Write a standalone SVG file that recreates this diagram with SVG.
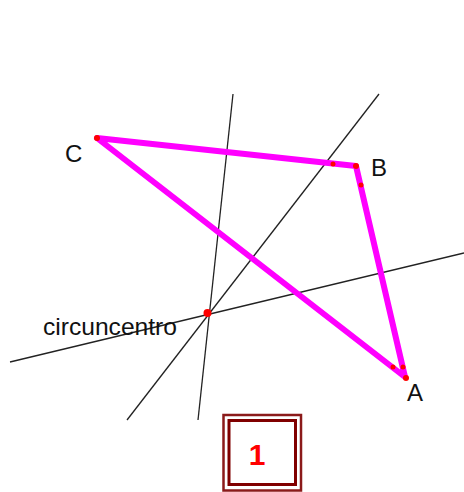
<svg xmlns="http://www.w3.org/2000/svg" width="464" height="492" viewBox="0 0 464 492">
<style>
.ln{stroke:#222;stroke-width:1.3;fill:none}
.tri{stroke:#ff00ff;stroke-width:6;fill:none;stroke-linejoin:round;stroke-linecap:round}
.pt{fill:#ff0000}
.lbl{font-family:"Liberation Sans",Arial,sans-serif;font-size:24px;fill:#111}
</style>
<rect width="464" height="492" fill="#fff"/>
<g id="connectors">
<line class="ln" x1="233" y1="94" x2="198" y2="420"/>
<line class="ln" x1="379" y1="94" x2="127" y2="420"/>
<line class="ln" x1="10" y1="362" x2="464" y2="253"/>
</g>
<g id="triangle">
<polygon class="tri" points="97,138 356,166 405,377"/>
<circle class="pt" cx="97" cy="138" r="3"/>
<circle class="pt" cx="333" cy="164" r="2.5"/>
<circle class="pt" cx="356" cy="166" r="3"/>
<circle class="pt" cx="361" cy="185" r="2.5"/>
<circle class="pt" cx="393" cy="367" r="2.5"/>
<circle class="pt" cx="403" cy="367" r="2.5"/>
<circle class="pt" cx="406" cy="378" r="3"/>
</g>
<g id="circumcentre">
<circle class="pt" cx="207.5" cy="313" r="4"/>
<text class="lbl" x="43" y="335" textLength="134" lengthAdjust="spacingAndGlyphs">circuncentro</text>
</g>
<g id="label-C"><text class="lbl" x="65" y="162">C</text></g>
<g id="label-B"><text class="lbl" x="371" y="176">B</text></g>
<g id="label-A"><text class="lbl" x="407" y="401">A</text></g>
<g id="badge">
<rect x="223.5" y="415" width="77.5" height="75.5" fill="none" stroke="#8b1a1a" stroke-width="2.5"/>
<rect x="229" y="420.5" width="66.5" height="64" fill="none" stroke="#800000" stroke-width="3"/>
<text x="257" y="465" text-anchor="middle" font-family="Liberation Sans,Arial,sans-serif" font-size="30" font-weight="bold" fill="#ff0000">1</text>
</g>
</svg>
